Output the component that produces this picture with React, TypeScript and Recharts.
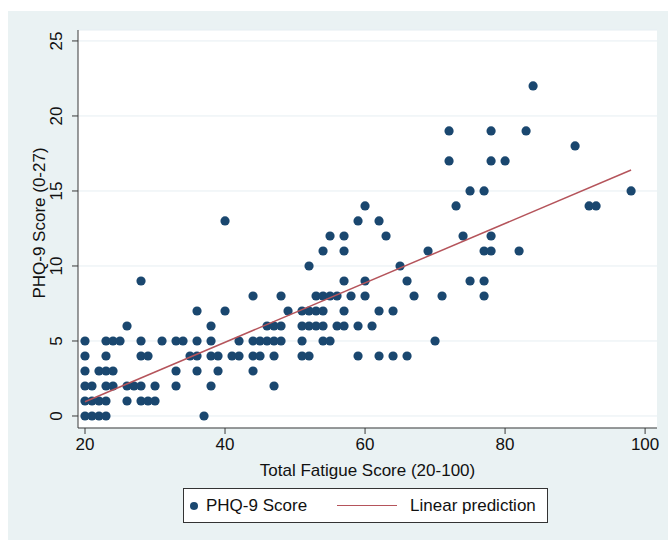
import React from 'react';
import { ScatterChart, Scatter, XAxis, YAxis, CartesianGrid } from 'recharts';

// Total fatigue scores observed at each PHQ-9 score
const phq0 = [20, 21, 22, 23, 37];
const phq1 = [20, 21, 22, 23, 26, 28, 29, 30];
const phq2 = [20, 21, 23, 24, 26, 27, 28, 30, 33, 38, 47];
const phq3 = [20, 22, 23, 24, 33, 36, 39, 44];
const phq4 = [20, 23, 28, 29, 35, 36, 38, 39, 41, 42, 44, 45, 47, 51, 52, 59, 62, 64, 66];
const phq5 = [20, 23, 24, 25, 28, 31, 33, 34, 36, 38, 42, 44, 45, 46, 47, 48, 51, 54, 55, 70];
const phq6 = [26, 38, 46, 47, 48, 51, 52, 53, 54, 56, 57, 59, 61];
const phq7 = [36, 40, 49, 51, 52, 53, 54, 57, 62, 64];
const phq8 = [44, 48, 53, 54, 55, 56, 58, 60, 67, 71, 77];
const phq9 = [28, 57, 60, 66, 75, 77];
const phq10 = [52, 65];
const phq11 = [54, 57, 69, 77, 78, 82];
const phq12 = [55, 57, 63, 74, 78];
const phq13 = [40, 59, 62];
const phq14 = [60, 73, 92, 93];
const phq15 = [75, 77, 98];
const phq17 = [72, 78, 80];
const phq18 = [90];
const phq19 = [72, 78, 83];
const phq22 = [84];

const byScore: Array<[number, number[]]> = [
  [0, phq0], [1, phq1], [2, phq2], [3, phq3], [4, phq4], [5, phq5],
  [6, phq6], [7, phq7], [8, phq8], [9, phq9], [10, phq10], [11, phq11],
  [12, phq12], [13, phq13], [14, phq14], [15, phq15], [17, phq17],
  [18, phq18], [19, phq19], [22, phq22],
];

// Linear prediction end points
const fitX = [20, 98];
const fitY = [0.95, 16.4];

const xTicks = [20, 40, 60, 80, 100];
const yTicks = [0, 5, 10, 15, 20, 25];

const scatterName = 'PHQ-9 Score';
const fitName = 'Linear prediction';

const DOT = '#1a476f';
const FIT = '#b5545b';
const AXIS = '#3a3a3a';
const BG = '#eaf2f3';
const FONT = '"Liberation Sans", Arial, sans-serif';

const points = byScore.flatMap(([score, xs]) => xs.map(x => ({ x, y: score })));
const fitPoints = fitX.map((x, i) => ({ x, y: fitY[i] }));

function Dot(props: { cx?: number; cy?: number }) {
  return <circle cx={props.cx} cy={props.cy} r={4.6} fill={DOT} />;
}

function YTick(props: { x?: number; y?: number; payload?: { value: number } }) {
  const x = (props.x ?? 0) - 13;
  const y = props.y ?? 0;
  return (
    <text
      x={x}
      y={y}
      transform={`rotate(-90 ${x} ${y})`}
      textAnchor="middle"
      dominantBaseline="central"
      fontSize={17}
      fill="#111"
      fontFamily={FONT}
    >
      {props.payload?.value}
    </text>
  );
}

function LegendBox() {
  return (
    <div
      style={{
        position: 'absolute',
        left: 175,
        top: 477,
        width: 363,
        height: 33,
        border: '1px solid #333',
        background: '#fff',
        display: 'flex',
        alignItems: 'center',
        fontFamily: FONT,
        fontSize: 17,
        color: '#111',
      }}
    >
      <span style={{ width: 8, height: 8, borderRadius: 4, background: DOT, marginLeft: 6 }} />
      <span style={{ marginLeft: 8 }}>{scatterName}</span>
      <span style={{ width: 60, height: 0, borderTop: `1.5px solid ${FIT}`, marginLeft: 30 }} />
      <span style={{ marginLeft: 13 }}>{fitName}</span>
    </div>
  );
}

export default function App() {
  return (
    <div
      style={{
        position: 'absolute',
        left: 8,
        top: 11,
        width: 660,
        height: 529,
        background: BG,
      }}
    >
      <ScatterChart
        width={660}
        height={529}
        margin={{ top: 19, right: 11, left: 0, bottom: 62 }}
      >
        <CartesianGrid
          horizontal
          vertical={false}
          stroke="#e6eef2"
          fill="#ffffff"
          fillOpacity={1}
        />
        <XAxis
          type="number"
          dataKey="x"
          domain={[19, 101.7]}
          ticks={xTicks}
          allowDataOverflow
          height={50}
          stroke={AXIS}
          tickSize={6}
          tickMargin={4}
          tick={{ fill: '#111', fontSize: 17, fontFamily: FONT }}
          label={{
            value: 'Total Fatigue Score (20-100)',
            position: 'insideBottom',
            offset: 2,
            fill: '#111',
            fontSize: 17,
            fontFamily: FONT,
          }}
        />
        <YAxis
          type="number"
          dataKey="y"
          domain={[-0.8, 25.73]}
          ticks={yTicks}
          allowDataOverflow
          width={70}
          stroke={AXIS}
          tickSize={6}
          tick={<YTick />}
          label={{
            content: () => (
              <text
                x={31}
                y={212}
                transform="rotate(-90 31 212)"
                textAnchor="middle"
                dominantBaseline="central"
                fontSize={17}
                fill="#111"
                fontFamily={FONT}
              >
                PHQ-9 Score (0-27)
              </text>
            ),
          }}
        />
        <Scatter
          name={scatterName}
          data={points}
          fill={DOT}
          shape={<Dot />}
          isAnimationActive={false}
        />
        <Scatter
          name={fitName}
          data={fitPoints}
          line={{ stroke: FIT, strokeWidth: 1.5 }}
          shape={() => <g />}
          isAnimationActive={false}
        />
      </ScatterChart>
      <LegendBox />
    </div>
  );
}
